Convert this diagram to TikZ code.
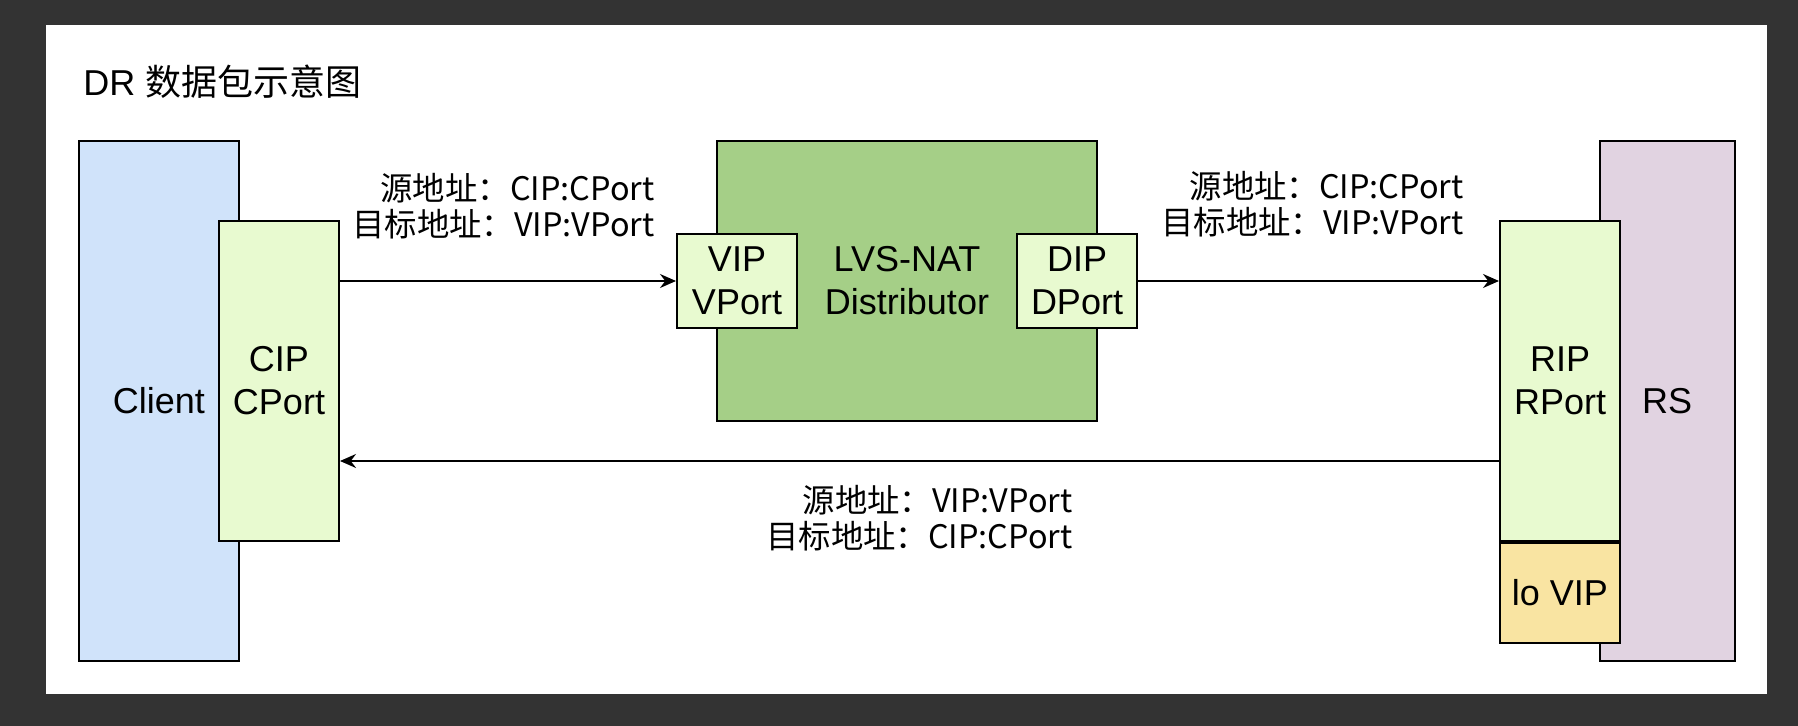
\documentclass[tikz,border=0pt]{standalone}
\usepackage{fontspec}
\setmainfont{Liberation Sans}
\newfontfamily\cjk[Scale=1.2]{Noto Sans CJK SC}
\usetikzlibrary{arrows.meta,positioning}

\definecolor{framebg}{HTML}{333333}
\definecolor{clientblue}{HTML}{D0E3FA}
\definecolor{nicgreen}{HTML}{E8FAD0}
\definecolor{lvsgreen}{HTML}{A5CF87}
\definecolor{rspurple}{HTML}{E1D3E1}
\definecolor{loyellow}{HTML}{F9E4A2}

\tikzset{
  box/.style={draw=black, line width=1pt, inner sep=0pt, align=center,
    font=\fontsize{18}{21.5}\selectfont},
  addr/.style={align=right, inner sep=0pt, font=\fontsize{13.5}{18.3}\selectfont},
  pkt/.style={-{Stealth[length=8pt,width=7pt]}, line width=0.9pt}
}

\begin{document}
\begin{tikzpicture}[x=0.5pt, y=-0.5pt]
  % screen and page
  \fill[framebg] (0,0) rectangle (1798,726);
  \fill[white] (46,25) rectangle (1767,694);

  \node[anchor=west, inner sep=0pt, font=\fontsize{18}{21}\selectfont] (title) at (83,82) {DR {\cjk\fontsize{15}{18}\selectfont 数据包示意图}};

  % client side
  \node[box, fill=clientblue, minimum width=80pt, minimum height=260pt] (client) at (159,401) {Client};
  \node[box, fill=nicgreen, minimum width=60pt, minimum height=160pt] (cip) at (279,381) {CIP\\CPort};

  % director
  \node[box, fill=lvsgreen, minimum width=190pt, minimum height=140pt] (lvs) at (907,281) {LVS-NAT\\Distributor};
  \node[box, fill=nicgreen, minimum width=60pt, minimum height=47pt] (vip) at (737,281) {VIP\\VPort};
  \node[box, fill=nicgreen, minimum width=60pt, minimum height=47pt] (dip) at (1077,281) {DIP\\DPort};

  % real server
  \node[box, fill=rspurple, minimum width=67.5pt, minimum height=260pt] (rs) at (1667,401) {RS};
  \node[box, fill=nicgreen, minimum width=60pt, minimum height=160pt] (rip) at (1560,381) {RIP\\RPort};
  \node[box, fill=loyellow, minimum width=60pt, minimum height=50pt, below=0pt of rip] (lovip) {lo VIP};

  % packets
  \draw[pkt] (cip.east |- vip.west) -- (vip.west);
  \draw[pkt] (dip.east) -- (dip.east -| rip.west);
  \draw[pkt] ([yshift=-40pt]rip.west) -- ([yshift=-40pt]cip.east);

  \node[addr, anchor=east] (req1) at (655,206) {\cjk{源地址：}CIP:CPort\\\cjk{目标地址：}VIP:VPort};
  \node[addr, anchor=east] (req2) at (1464,204) {\cjk{源地址：}CIP:CPort\\\cjk{目标地址：}VIP:VPort};
  \node[addr, anchor=east] (resp) at (1073,518) {\cjk{源地址：}VIP:VPort\\\cjk{目标地址：}CIP:CPort};
\end{tikzpicture}
\end{document}
